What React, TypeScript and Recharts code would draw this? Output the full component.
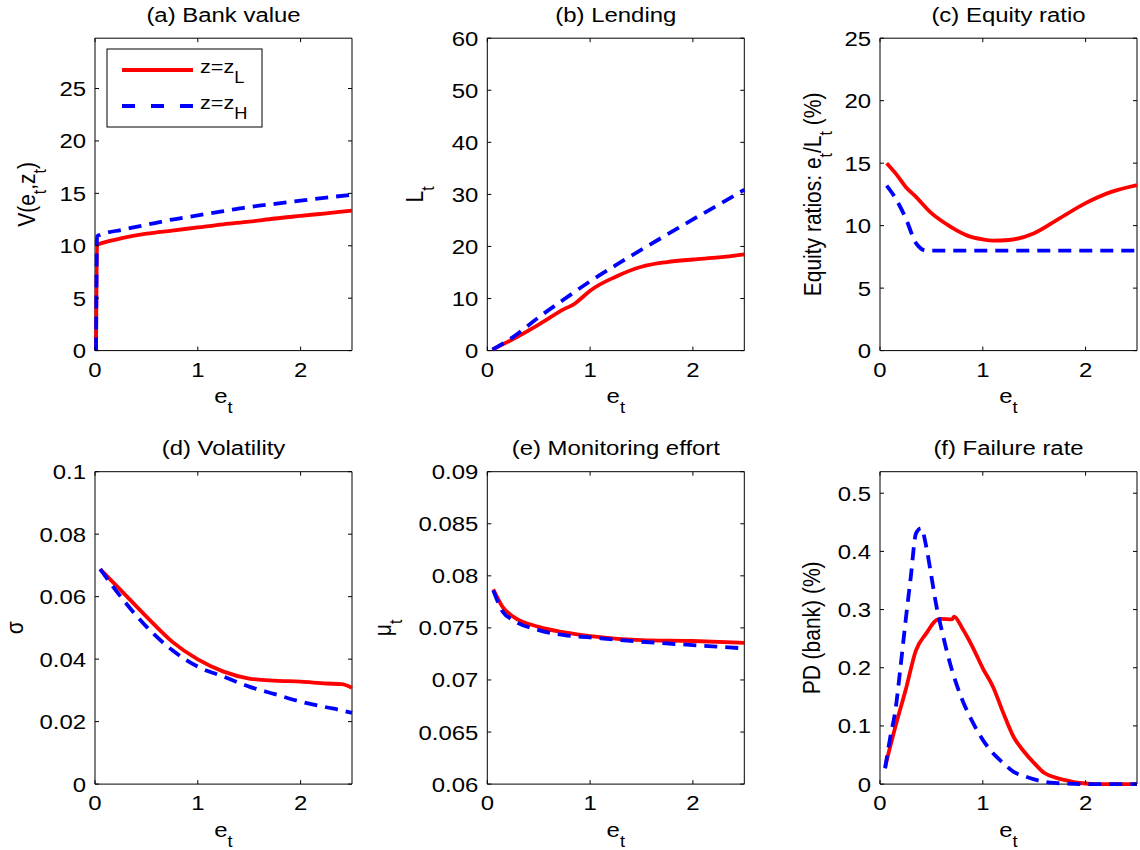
import React from "react";
import { Line, LineChart, ReferenceArea, XAxis, YAxis } from "recharts";

const W = 1140;
const H = 850;
const PW = 257; // plot box width
const PH = 312.4; // plot box height
const FONT = "'Liberation Sans', Arial, Helvetica, sans-serif";
const STRETCH = 1.14; // the original figure is a bit wider than tall
const RED = "#ff0000";
const BLUE = "#0000ff";
const DASH = "13 8";
const LW = 3.8;

const xTicks = [0, 1, 2];

// (a) Bank value
const bankX = [0.01, 0.02, 0.05, 0.1, 0.25, 0.5, 0.75, 1, 1.25, 1.5, 1.75, 2, 2.25, 2.5];
const bankLow = [0, 10.1, 10.2, 10.35, 10.7, 11.15, 11.45, 11.75, 12.05, 12.3, 12.6, 12.85, 13.1, 13.35];
const bankHigh = [0, 10.9, 11.05, 11.2, 11.5, 12.0, 12.5, 12.9, 13.3, 13.7, 14.0, 14.3, 14.6, 14.85];

// (b) Lending
const lendLowX = [0.05, 0.25, 0.5, 0.75, 0.85, 0.9, 1, 1.25, 1.5, 1.75, 2, 2.25, 2.5];
const lendLow = [0.2, 2.2, 5.0, 8.0, 9.0, 9.8, 11.5, 14.2, 16.1, 17.0, 17.5, 17.9, 18.5];
const lendHighX = [0.05, 0.25, 0.5, 0.75, 1, 1.25, 1.5, 1.75, 2, 2.25, 2.5];
const lendHigh = [0.2, 2.6, 6.4, 9.9, 13.3, 16.4, 19.4, 22.3, 25.2, 28.0, 30.9];

// (c) Equity ratio
const eqLowX = [0.065, 0.15, 0.25, 0.35, 0.5, 0.65, 0.75, 0.85, 1, 1.1, 1.25, 1.5, 1.75, 2, 2.25, 2.5];
const eqLow = [15.0, 14.2, 13.1, 12.3, 11.0, 10.1, 9.6, 9.2, 8.9, 8.8, 8.85, 9.4, 10.6, 11.8, 12.7, 13.25];
const eqHighX = [0.065, 0.15, 0.25, 0.35, 0.45, 0.6, 1, 1.5, 2, 2.5];
const eqHigh = [13.2, 12.2, 10.6, 8.6, 8.0, 8.0, 8.0, 8.0, 8.0, 8.0];

// (d) Volatility
const volX = [0.05, 0.25, 0.5, 0.75, 1, 1.25, 1.5, 1.75, 2, 2.25, 2.4, 2.5];
const volLow = [0.0688, 0.0621, 0.0536, 0.0456, 0.0399, 0.036, 0.0338, 0.0331, 0.0328, 0.0322, 0.032, 0.0308];
const volHigh = [0.0688, 0.06, 0.0504, 0.0429, 0.0376, 0.0344, 0.0312, 0.0288, 0.0264, 0.0246, 0.0236, 0.0228];

// (e) Monitoring effort
const monX = [0.058, 0.15, 0.25, 0.5, 0.75, 1, 1.5, 2, 2.5];
const monLow = [0.0787, 0.077, 0.0761, 0.0751, 0.07457, 0.07422, 0.07383, 0.07374, 0.07357];
const monHigh = [0.0786, 0.07655, 0.07575, 0.07479, 0.07431, 0.07409, 0.07367, 0.07335, 0.07303];

// (f) Failure rate
const failLowX = [0.05, 0.15, 0.25, 0.35, 0.45, 0.55, 0.6, 0.7, 0.72, 0.8, 0.9, 1.0, 1.1, 1.2, 1.3, 1.4, 1.5, 1.6, 1.7, 1.8, 1.9, 2.0, 2.1, 2.5];
const failLow = [0.03, 0.099, 0.162, 0.23, 0.259, 0.282, 0.284, 0.283, 0.288, 0.268, 0.236, 0.199, 0.167, 0.122, 0.081, 0.056, 0.036, 0.019, 0.0115, 0.0069, 0.003, 0.001, 0, 0];
const failHighX = [0.05, 0.1, 0.15, 0.2, 0.25, 0.3, 0.35, 0.4, 0.45, 0.5, 0.55, 0.6, 0.7, 0.8, 0.9, 1.0, 1.1, 1.2, 1.3, 1.4, 1.5, 1.6, 1.7, 1.8, 2.0, 2.5];
const failHigh = [0.027, 0.081, 0.127, 0.202, 0.282, 0.357, 0.431, 0.44, 0.408, 0.357, 0.305, 0.265, 0.196, 0.145, 0.107, 0.076, 0.053, 0.036, 0.021, 0.014, 0.008, 0.004, 0.002, 0.001, 0, 0];

const pts = (xs: number[], ys: number[]) => xs.map((x, i) => ({ x, y: ys[i] }));

// text with TeX-like subscripts: "_x" marks a subscript piece
type Seg = [string, boolean];
const SUB_SHIFT = 10;
function segs(parts: Seg[]) {
  let shifted = false;
  return parts.map(([s, isSub], i) => {
    let dy = 0;
    if (isSub && !shifted) dy = SUB_SHIFT;
    if (!isSub && shifted) dy = -SUB_SHIFT;
    shifted = isSub;
    return (
      <tspan key={i} dy={dy || undefined} fontSize={isSub ? 16 : undefined}>
        {s}
      </tspan>
    );
  });
}

const colLeft = [95, 487.3, 880];
const rowTop = [38.2, 471.7];

const panels = [
  {
    title: "(a) Bank value", col: 0, row: 0, domain: [0, 29.8], ticks: [0, 5, 10, 15, 20, 25],
    red: pts(bankX, bankLow), blue: pts(bankX, bankHigh), labelX: 35,
    yLabel: [["V(e", false], ["t", true], [",z", false], ["t", true], [")", false]] as Seg[],
  },
  {
    title: "(b) Lending", col: 1, row: 0, domain: [0, 60], ticks: [0, 10, 20, 30, 40, 50, 60],
    red: pts(lendLowX, lendLow), blue: pts(lendHighX, lendHigh), labelX: 423,
    yLabel: [["L", false], ["t", true]] as Seg[],
  },
  {
    title: "(c) Equity ratio", col: 2, row: 0, domain: [0, 25], ticks: [0, 5, 10, 15, 20, 25],
    red: pts(eqLowX, eqLow), blue: pts(eqHighX, eqHigh), labelX: 821,
    yLabel: [["Equity ratios: e", false], ["t", true], ["/L", false], ["t", true], [" (%)", false]] as Seg[],
  },
  {
    title: "(d) Volatility", col: 0, row: 1, domain: [0, 0.1], ticks: [0, 0.02, 0.04, 0.06, 0.08, 0.1],
    red: pts(volX, volLow), blue: pts(volX, volHigh), labelX: 23,
    yLabel: [["σ", false]] as Seg[],
  },
  {
    title: "(e) Monitoring effort", col: 1, row: 1, domain: [0.06, 0.09],
    ticks: [0.06, 0.065, 0.07, 0.075, 0.08, 0.085, 0.09],
    red: pts(monX, monLow), blue: pts(monX, monHigh), labelX: 391,
    yLabel: [["μ", false], ["t", true]] as Seg[],
  },
  {
    title: "(f) Failure rate", col: 2, row: 1, domain: [0, 0.537], ticks: [0, 0.1, 0.2, 0.3, 0.4, 0.5],
    red: pts(failLowX, failLow), blue: pts(failHighX, failHigh), labelX: 820,
    yLabel: [["PD (bank) (%)", false]] as Seg[],
  },
];

const xLabel: Seg[] = [["e", false], ["t", true]];
const legendItems: { color: string; dash?: string; label: Seg[] }[] = [
  { color: RED, label: [["z=z", false], ["L", true]] },
  { color: BLUE, dash: "13 16", label: [["z=z", false], ["H", true]] },
];

const fmt = (v: number) => String(Number(v.toFixed(4)));

function Panel({ p }: { p: (typeof panels)[number] }) {
  const left = colLeft[p.col];
  const top = rowTop[p.row];
  const bottom = top + PH;
  const right = left + PW;

  const XTick = (props: any) => {
    const { x, payload } = props;
    return (
      <g>
        <line x1={x} x2={x} y1={bottom} y2={bottom - 4} stroke="#000" />
        <line x1={x} x2={x} y1={top} y2={top + 4} stroke="#000" />
        <text
          transform={`translate(${x} ${bottom + 26}) scale(${STRETCH} 1)`}
          textAnchor="middle" fontFamily={FONT} fontSize={21} fill="#000"
        >
          {fmt(payload.value)}
        </text>
      </g>
    );
  };

  const YTick = (props: any) => {
    const { y, payload } = props;
    return (
      <g>
        <line x1={left} x2={left + 4} y1={y} y2={y} stroke="#000" />
        <line x1={right} x2={right - 4} y1={y} y2={y} stroke="#000" />
        <text
          transform={`translate(${left - 9} ${y + 7.5}) scale(${STRETCH} 1)`}
          textAnchor="end" fontFamily={FONT} fontSize={21} fill="#000"
        >
          {fmt(payload.value)}
        </text>
      </g>
    );
  };

  // axes need a size of at least 1px, otherwise Recharts skips their ticks
  return (
    <div style={{ position: "absolute", left: 0, top: 0 }}>
      <LineChart
        width={W}
        height={H}
        margin={{ top, left: left - 1, right: W - right, bottom: H - bottom - 1 }}
      >
        <XAxis type="number" dataKey="x" domain={[0, 2.5]} ticks={xTicks} height={1}
          axisLine={false} tickLine={false} tick={XTick} interval={0} />
        <YAxis type="number" dataKey="y" domain={p.domain} ticks={p.ticks} width={1}
          axisLine={false} tickLine={false} tick={YTick} interval={0} />
        <ReferenceArea x1={0} x2={2.5} y1={p.domain[0]} y2={p.domain[1]}
          fill="none" stroke="#000" strokeWidth={1} ifOverflow="visible" />
        <Line data={p.red} dataKey="y" type="monotone" stroke={RED} strokeWidth={LW}
          dot={false} activeDot={false} isAnimationActive={false} />
        <Line data={p.blue} dataKey="y" type="monotone" stroke={BLUE} strokeWidth={LW}
          strokeDasharray={DASH} dot={false} activeDot={false} isAnimationActive={false} />
      </LineChart>
    </div>
  );
}

export default function App() {
  return (
    <div style={{ position: "absolute", left: 0, top: 0, width: W, height: H, background: "#fff" }}>
      {panels.map((p) => (
        <Panel key={p.title} p={p} />
      ))}
      <svg width={W} height={H} style={{ position: "absolute", left: 0, top: 0, pointerEvents: "none" }}
        fontFamily={FONT} fill="#000">
        {panels.map((p) => {
          const left = colLeft[p.col];
          const top = rowTop[p.row];
          const cx = left + PW / 2;
          const cy = top + PH / 2;
          return (
            <g key={p.title}>
              <text transform={`translate(${cx} ${p.row === 0 ? 22 : 455}) scale(${STRETCH} 1)`}
                textAnchor="middle" fontSize={21}>{p.title}</text>
              <text transform={`translate(${cx} ${top + PH + 52.5}) scale(${STRETCH} 1)`}
                textAnchor="middle" fontSize={21}>{segs(xLabel)}</text>
              <text transform={`translate(${p.labelX} ${cy}) scale(${STRETCH} 1) rotate(-90)`}
                textAnchor="middle" fontSize={21}>{segs(p.yLabel)}</text>
            </g>
          );
        })}
        {/* legend of panel (a) */}
        <rect x={107} y={49} width={155} height={78} fill="#fff" stroke="#000" strokeWidth={1} />
        {legendItems.map((it, i) => (
          <g key={i}>
            <line x1={122} x2={193} y1={70 + i * 36} y2={70 + i * 36} stroke={it.color}
              strokeWidth={LW} strokeDasharray={it.dash} />
            <text transform={`translate(200 ${73 + i * 36}) scale(${STRETCH} 1)`} fontSize={19}>
              {segs(it.label)}
            </text>
          </g>
        ))}
      </svg>
    </div>
  );
}
